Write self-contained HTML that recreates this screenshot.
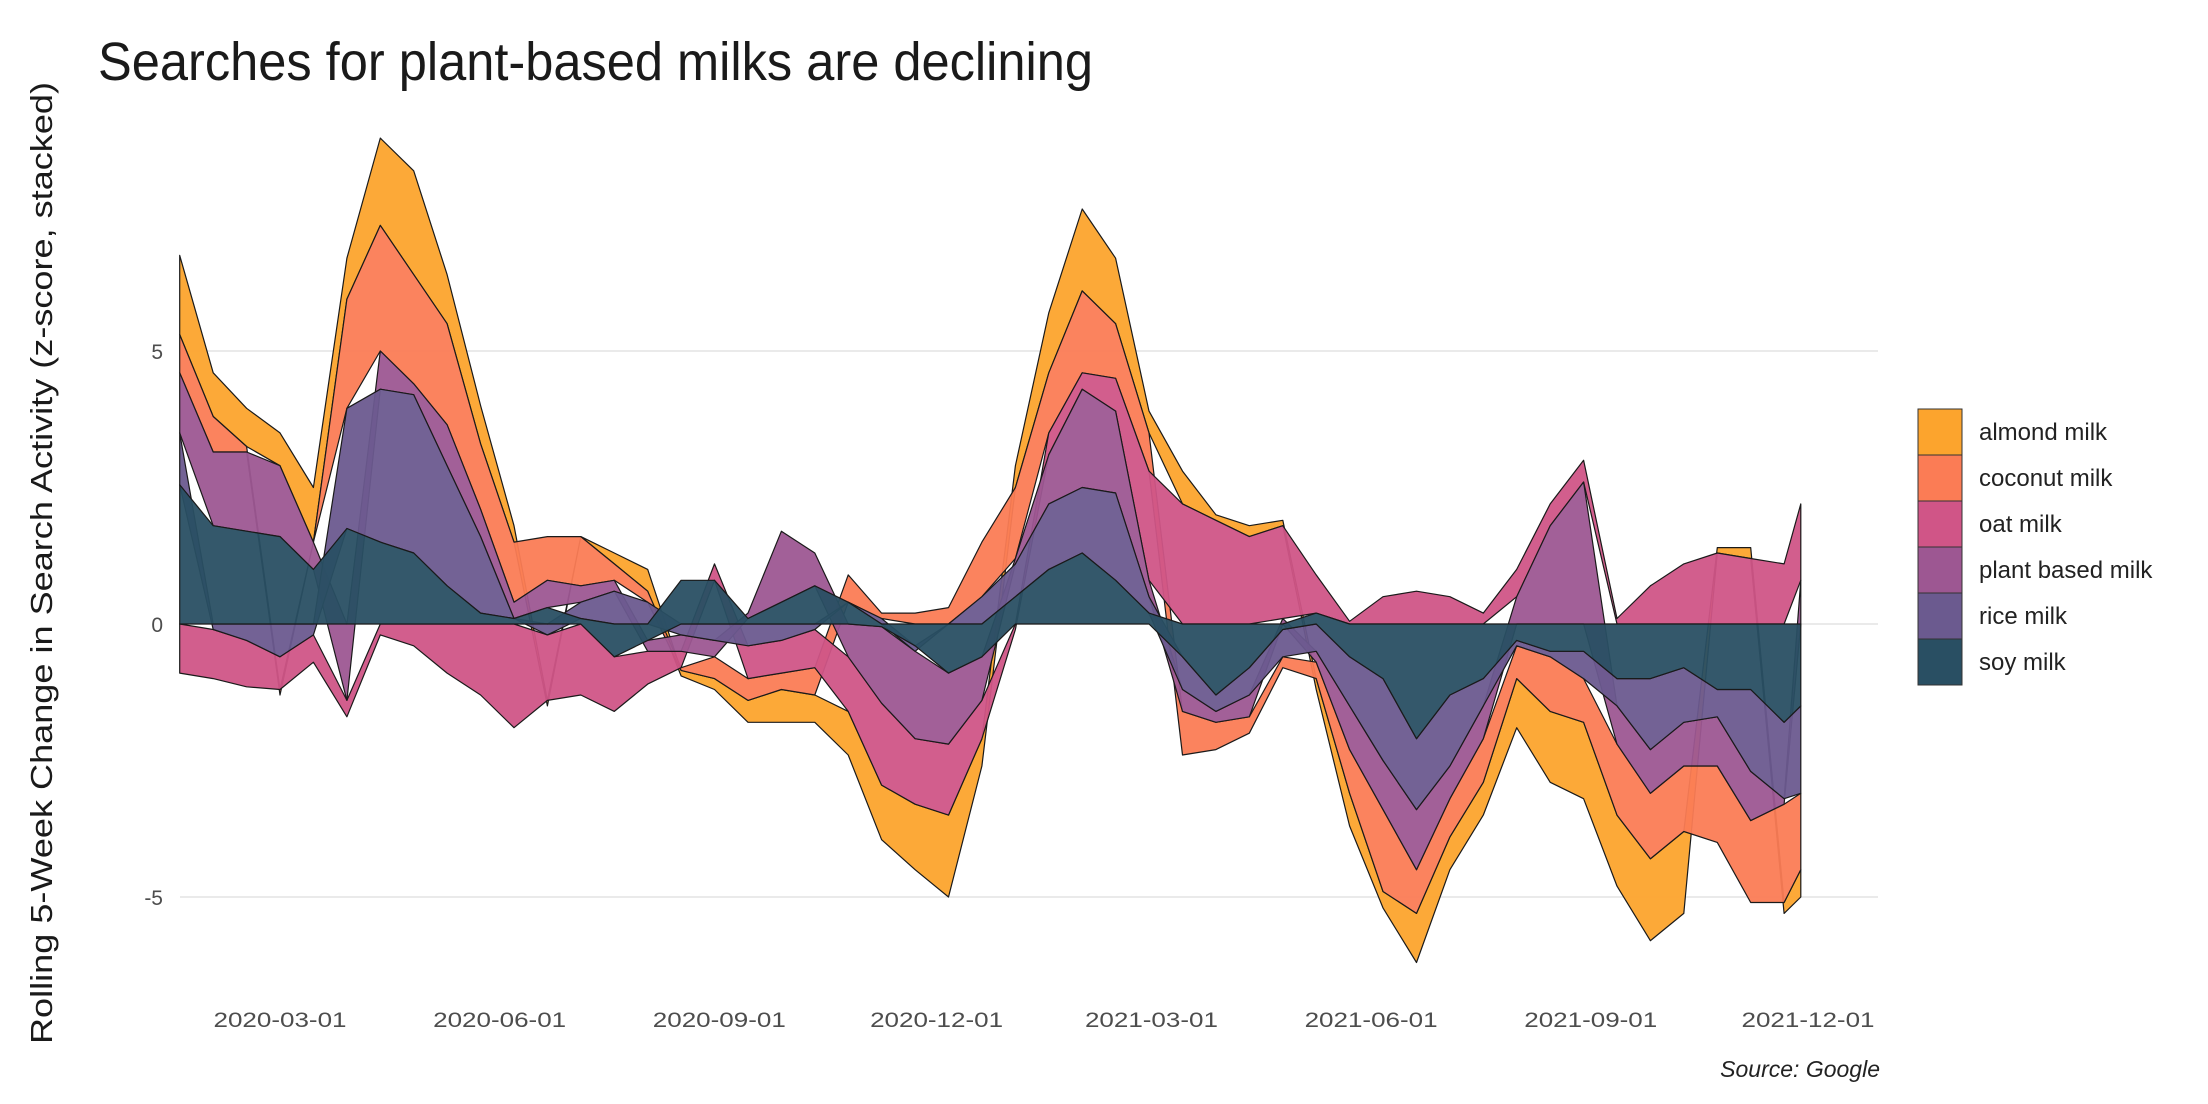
<!DOCTYPE html>
<html><head><meta charset="utf-8"><style>
html,body{margin:0;padding:0;background:#fff;}
svg{display:block;font-family:"Liberation Sans",sans-serif;}
</style></head><body>
<svg id="chart" width="2208" height="1104" viewBox="0 0 2208 1104">
<text x="98" y="80" font-size="54" fill="#1a1a1a" textLength="995" lengthAdjust="spacingAndGlyphs">Searches for plant-based milks are declining</text>
<text transform="translate(52,563) rotate(-90)" text-anchor="middle" font-size="31" fill="#1a1a1a" textLength="962" lengthAdjust="spacingAndGlyphs">Rolling 5-Week Change in Search Activity (z-score, stacked)</text>
<g id="grid"></g>
<g id="areas"></g>
<g id="yticks"></g>
<g id="xticks"></g>
<g id="legend"></g>
<text x="1880" y="1077" text-anchor="end" font-size="23" font-style="italic" fill="#222">Source: Google</text>
</svg>
<script>
const seriesNames = ["almond milk","coconut milk","oat milk","plant based milk","rice milk","soy milk"];
const startDate = "2020-01-19";
const stepDays = [0,14,28,42,56,70,84,98,112,126,140,154,168,182,196,210,224,238,252,266,280,294,308,322,336,350,364,378,392,406,420,434,448,462,476,490,504,518,532,546,560,574,588,602,616,630,644,658,672,679];
const soy =    [2.55,1.8,1.7,1.6,1.0,1.75,1.5,1.3,0.7,0.2,0.1,0.3,0.1,-0.6,-0.3,0.8,0.8,0.1,0.4,0.7,0.4,-0.05,-0.4,-0.9,-0.6,0.5,1.0,1.3,0.8,0.2,-0.6,-1.3,-0.8,-0.1,0.2,-0.6,-1.0,-2.1,-1.3,-1.0,-0.3,-0.5,-0.5,-1.0,-1.0,-0.8,-1.2,-1.2,-1.8,-1.5];
const rice =   [0.95,-0.1,-0.3,-0.6,-0.2,2.2,2.8,2.9,2.2,1.4,0.0,-0.2,0.3,0.6,0.4,-0.2,-0.3,-0.4,-0.3,-0.1,0.0,0.1,-0.1,0.0,0.5,0.6,1.2,1.2,1.6,0.3,-0.6,-0.3,-0.5,-0.5,-0.5,-0.9,-1.5,-1.3,-1.3,-0.5,-0.1,-0.1,-0.5,-0.5,-1.3,-1.0,-0.5,-1.5,-1.4,-1.6];
const plant =  [1.1,1.35,1.45,1.3,0.5,-1.4,0.7,0.2,0.75,0.5,0.3,0.5,0.3,0.2,-0.2,-0.3,-0.3,0.1,1.3,0.6,-0.6,-1.4,-1.6,-1.3,-0.8,0.1,0.9,1.8,1.5,0.3,-0.4,-0.2,-0.4,0.1,-0.2,-0.8,-0.9,-1.1,-0.6,-0.6,0.5,1.8,2.6,-0.7,-0.8,-0.8,-0.9,-0.9,-0.1,0.8];
const oat =    [-0.9,-0.9,-0.85,-0.6,-0.5,-0.3,-0.2,-0.4,-0.9,-1.3,-1.9,-1.2,-1.3,-1.0,-0.6,-0.3,0.3,-0.6,-0.6,-0.7,-1.0,-1.5,-1.2,-1.3,-0.7,-0.1,0.4,0.3,0.6,2.0,2.2,1.9,1.6,1.7,0.7,0.05,0.5,0.6,0.5,0.2,0.5,0.4,0.4,0.1,0.7,1.1,1.3,1.2,1.1,1.4];
const coconut =[0.7,0.65,0.1,-0.1,0.0,2.0,2.3,2.0,1.85,1.2,1.1,0.8,0.9,0.3,0.2,-0.05,-0.4,-0.4,-0.3,-0.5,0.5,0.1,0.2,0.3,1.0,1.3,1.1,1.5,1.0,0.7,-0.8,-0.5,-0.3,-0.2,-0.3,-0.8,-1.5,-0.8,-0.7,-0.8,-0.6,-1.0,-0.8,-1.3,-1.2,-1.2,-1.4,-1.5,-1.8,-1.4];
const almond = [1.45,0.8,0.7,0.6,1.0,0.75,1.6,1.9,0.9,0.7,0.3,-0.1,0.0,0.2,0.4,-0.1,-0.2,-0.4,-0.6,-0.5,-0.8,-1.0,-1.2,-1.5,-0.5,0.4,1.1,1.5,1.2,0.4,0.6,0.1,0.2,0.1,-0.2,-0.6,-0.3,-0.9,-0.6,-0.6,-0.9,-1.3,-1.4,-1.3,-1.5,-1.5,0.1,0.2,-0.2,-0.5];
const yTicks = [-5,0,5];
const xTickLabels = ["2020-03-01","2020-06-01","2020-09-01","2020-12-01","2021-03-01","2021-06-01","2021-09-01","2021-12-01"];

const NS="http://www.w3.org/2000/svg";
const colors=["#FCA42D","#FB7C55","#D05587","#9D5792","#6B5A8F","#294F63"];
const t0=Date.parse("2020-03-01"), t1=Date.parse("2021-12-01");
function xScale(ms){return 280+(ms-t0)/(t1-t0)*(1808-280);}
function yScale(v){return 624-54.6*v;}
const start=Date.parse(startDate);
const xs=stepDays.map(d=>xScale(start+d*86400000));
const data=[almond,coconut,oat,plant,rice,soy];

const grid=document.getElementById('grid');
yTicks.forEach(v=>{
  const l=document.createElementNS(NS,'line');
  l.setAttribute('x1',180);l.setAttribute('x2',1878);
  l.setAttribute('y1',yScale(v));l.setAttribute('y2',yScale(v));
  l.setAttribute('stroke','#e3e3e3');l.setAttribute('stroke-width','1.4');
  
  
  grid.appendChild(l);
  const t=document.createElementNS(NS,'text');
  t.setAttribute('x',163);t.setAttribute('y',yScale(v)+8);
  t.setAttribute('text-anchor','end');t.setAttribute('font-size','21');t.setAttribute('fill','#4d4d4d');
  t.textContent=String(v);
  
  
  document.getElementById('yticks').appendChild(t);
});
xTickLabels.forEach(s=>{
  const t=document.createElementNS(NS,'text');
  t.setAttribute('x',xScale(Date.parse(s)));t.setAttribute('y',1027);
  t.setAttribute('text-anchor','middle');t.setAttribute('font-size','21');t.setAttribute('fill','#4d4d4d');
  t.setAttribute('textLength','133');t.setAttribute('lengthAdjust','spacingAndGlyphs');
  t.textContent=s;
  
  
  document.getElementById('xticks').appendChild(t);
});

const n=xs.length;
const lo=[],hi=[];
for(let k=0;k<6;k++){lo.push(new Array(n));hi.push(new Array(n));}
for(let i=0;i<n;i++){
  let pos=0,neg=0;
  for(let k=5;k>=0;k--){
    const v=data[k][i];
    if(v>=0){lo[k][i]=pos;hi[k][i]=pos+v;pos+=v;}
    else{hi[k][i]=neg;lo[k][i]=neg+v;neg+=v;}
  }
}
const areas=document.getElementById('areas');
for(let k=0;k<6;k++){
  let d='';
  for(let i=0;i<n;i++){d+=(i?'L':'M')+xs[i].toFixed(1)+','+yScale(hi[k][i]).toFixed(1);}
  for(let i=n-1;i>=0;i--){d+='L'+xs[i].toFixed(1)+','+yScale(lo[k][i]).toFixed(1);}
  d+='Z';
  const p=document.createElementNS(NS,'path');
  p.setAttribute('d',d);p.setAttribute('fill',colors[k]);p.setAttribute('fill-opacity','0.95');
  p.setAttribute('stroke','#1a1a1a');p.setAttribute('stroke-width','1.2');p.setAttribute('stroke-linejoin','round');
  
  
  areas.appendChild(p);
}
const legend=document.getElementById('legend');
seriesNames.forEach((s,k)=>{
  const y=409+k*46;
  const r=document.createElementNS(NS,'rect');
  r.setAttribute('x',1918);r.setAttribute('y',y);r.setAttribute('width',44);r.setAttribute('height',46);
  r.setAttribute('fill',colors[k]);r.setAttribute('stroke','#333');r.setAttribute('stroke-width','1');
  
  
  legend.appendChild(r);
  const t=document.createElementNS(NS,'text');
  t.setAttribute('x',1979);t.setAttribute('y',y+31);t.setAttribute('font-size','24');t.setAttribute('fill','#222');
  t.textContent=s;
  
  
  legend.appendChild(t);
});
</script>
</body></html>
